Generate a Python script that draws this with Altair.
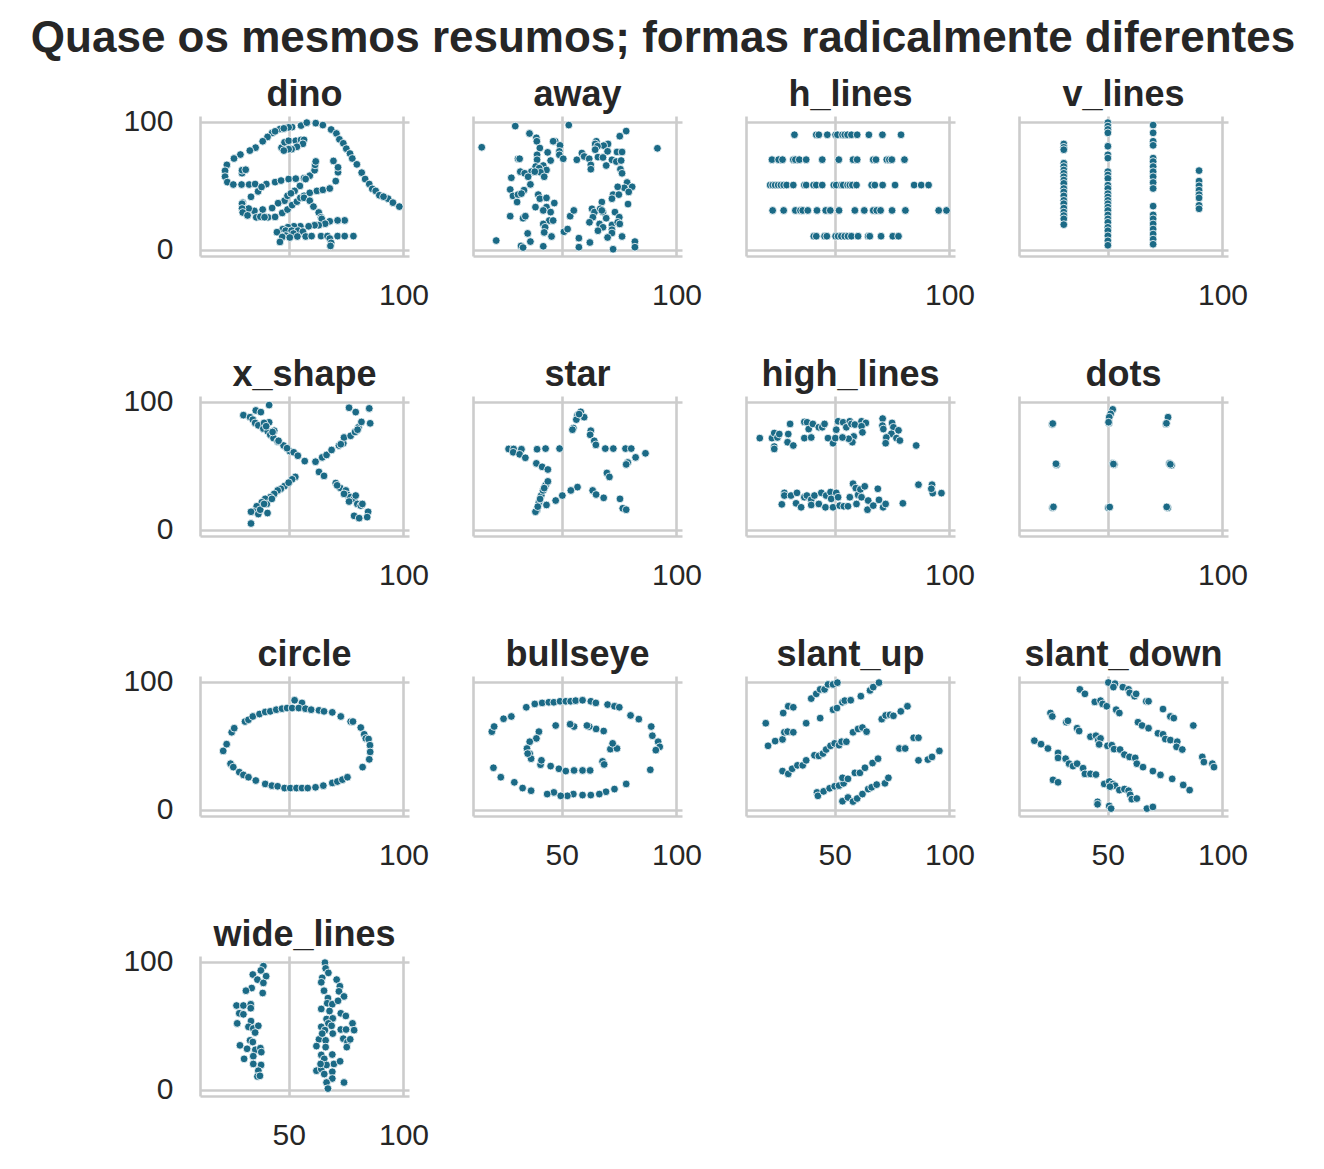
import altair as alt
import pandas as pd

TITLE = "Quase os mesmos resumos; formas radicalmente diferentes"
POINT_COLOR = "#1b6a86"
GREY = "#cccccc"
TEXT = "#262626"
FONT = "Liberation Sans"

# values
dino_x = [55.4, 51.5, 46.2, 42.8, 40.8, 38.7, 35.6, 33.1, 29.0, 26.2, 23.1, 22.3, 22.3, 23.3, 25.9, 29.5,
          32.8, 35.4, 40.3, 44.1, 46.7, 50.0, 53.1, 56.7, 59.2, 61.3, 61.5, 61.8, 57.4, 54.9, 52.6, 48.2,
          49.5, 51.0, 45.4, 42.8, 38.7, 35.1, 32.6, 30.0, 33.6, 36.7, 38.2, 29.7, 29.7, 30.0, 32.1, 35.9,
          41.0, 44.1, 47.2, 49.5, 51.5, 53.6, 55.1, 56.7, 59.2, 62.3, 64.9, 67.9, 70.5, 71.5, 71.5, 69.5,
          46.9, 48.2, 50.0, 53.1, 55.4, 56.7, 56.2, 53.6, 51.3, 50.0, 47.9, 29.7, 29.7, 31.3, 57.9, 61.8,
          64.9, 68.5, 70.8, 72.1, 73.8, 75.1, 76.7, 77.7, 79.7, 81.8, 83.3, 85.1, 86.4, 87.9, 89.5, 93.3,
          95.4, 98.2, 56.7, 59.2, 60.8, 63.1, 64.1, 64.4, 74.4, 71.3, 67.9, 65.9, 63.1, 61.3, 58.7, 55.1,
          52.3, 49.7, 47.4, 44.9, 48.7, 51.3, 54.1, 56.2, 52.1, 48.7, 47.2, 46.2, 50.5, 53.8, 57.4, 60.0,
          64.1, 66.9, 71.3, 74.4, 78.2, 67.9, 68.5, 68.2, 37.7, 39.5, 91.3, 50.0, 47.9, 44.1]
dino_y = [97.2, 96.0, 94.5, 91.4, 88.3, 84.9, 79.9, 77.6, 74.5, 71.4, 66.4, 61.8, 57.2, 52.9, 51.0, 51.0,
          51.0, 51.4, 51.4, 52.9, 54.1, 55.3, 55.6, 56.0, 57.9, 62.2, 66.4, 69.1, 55.3, 49.9, 46.0, 38.3,
          42.2, 44.1, 36.4, 32.6, 31.4, 30.3, 32.2, 36.8, 41.4, 45.6, 49.1, 36.0, 32.2, 29.1, 26.8, 25.3,
          25.3, 25.6, 28.7, 31.4, 34.9, 37.6, 40.6, 42.2, 44.5, 46.0, 46.8, 47.9, 53.7, 60.6, 64.5, 69.5,
          79.9, 84.1, 85.3, 85.3, 86.0, 86.0, 82.9, 80.6, 78.7, 78.7, 77.6, 59.9, 62.2, 62.6, 99.5, 99.1,
          97.6, 94.1, 91.0, 86.4, 83.3, 79.1, 75.3, 71.4, 66.8, 60.3, 55.3, 51.4, 47.6, 46.0, 42.6, 39.9,
          36.8, 33.7, 40.6, 38.3, 33.7, 29.1, 25.3, 24.1, 22.9, 22.9, 22.2, 20.3, 19.1, 19.1, 18.3, 18.3,
          18.3, 17.6, 16.0, 13.7, 14.9, 14.9, 14.9, 14.1, 12.6, 11.0, 9.9, 6.0, 9.5, 10.3, 10.3, 10.6,
          10.6, 10.6, 10.6, 10.6, 10.6, 8.7, 5.3, 2.9, 25.8, 25.4, 41.5, 95.8, 95.0, 92.7]

away_x = [15.2, 29.8, 53.1, 36.0, 39.0, 39.2, 40.5, 47.2, 46.3, 49.3, 49.0, 49.0, 50.7, 43.9, 45.2, 39.3,
          39.3, 31.0, 31.7, 38.7, 42.0, 43.4, 40.2, 40.8, 36.8, 38.3, 32.0, 33.9, 35.4, 42.4, 28.1, 36.4,
          27.6, 33.6, 28.8, 31.0, 32.5, 30.6, 39.8, 40.5, 43.4, 38.6, 43.4, 42.0, 45.2, 46.8, 27.6, 33.2,
          34.2, 44.6, 46.3, 42.0, 42.8, 51.0, 52.6, 53.7, 55.3, 35.2, 42.4, 45.6, 21.5, 36.4, 32.3, 33.2,
          42.0, 57.5, 57.5, 62.3, 72.4, 76.3, 81.9, 81.9, 91.7, 78.1, 75.3, 70.2, 68.3, 65.1, 64.6, 65.6,
          64.6, 70.0, 74.1, 76.3, 58.8, 59.8, 56.6, 62.0, 62.7, 62.7, 65.8, 68.0, 71.9, 73.8, 75.9, 69.4,
          75.6, 76.3, 78.5, 80.7, 77.3, 79.2, 74.4, 72.4, 71.9, 74.9, 67.5, 78.9, 63.2, 64.3, 66.8, 68.0,
          63.6, 62.1, 66.5, 68.0, 65.8, 69.4, 71.9, 71.9, 71.9, 73.2, 75.1, 74.4, 75.3, 70.0, 67.5]
away_y = [80.2, 96.8, 97.6, 91.0, 87.6, 84.9, 79.6, 84.9, 84.9, 81.7, 77.0, 74.3, 71.2, 76.2, 69.8, 74.3,
          70.4, 71.2, 71.2, 65.1, 65.9, 62.4, 63.8, 60.6, 61.1, 61.1, 61.1, 59.8, 57.1, 57.1, 56.3, 51.1,
          47.1, 46.6, 42.1, 43.1, 43.9, 37.3, 43.1, 39.9, 40.5, 33.3, 33.3, 30.7, 29.4, 36.5, 26.2, 24.6,
          26.2, 22.8, 22.8, 20.1, 17.5, 14.0, 16.1, 26.2, 30.7, 12.7, 13.5, 10.3, 7.1, 6.3, 2.9, 1.6,
          2.6, 9.0, 1.9, 5.6, 0.3, 10.3, 6.3, 1.9, 79.4, 92.9, 88.9, 82.8, 81.5, 84.9, 82.8, 81.0,
          78.3, 77.0, 76.5, 76.5, 75.7, 73.0, 70.4, 71.2, 66.4, 63.0, 72.5, 72.2, 70.4, 69.0, 69.8, 65.9,
          63.0, 59.8, 52.6, 49.2, 48.4, 45.2, 49.2, 43.1, 39.9, 43.1, 37.3, 35.7, 32.0, 29.4, 32.0, 29.4,
          25.4, 21.4, 20.1, 17.5, 14.8, 24.6, 19.3, 15.6, 13.0, 29.4, 25.4, 21.4, 20.1, 9.5, 30.7]

h_lines_x = [32.5, 42.0, 43.1, 46.8, 50.4, 51.2, 53.4, 54.4, 55.6, 57.3, 59.8, 64.9, 70.8, 78.9,
             22.7, 25.6, 27.3, 32.0, 32.9, 34.6, 37.6, 44.6, 51.8, 58.0, 59.8, 66.8, 68.0, 72.7, 73.8, 74.9, 80.4,
             21.9, 23.0, 24.1, 25.4, 26.6, 27.8, 29.1, 32.0, 36.8, 37.6, 40.8, 42.0, 44.6, 49.6, 50.7, 52.9,
             53.7, 55.6, 56.6, 57.7, 59.5, 66.1, 67.5, 70.9, 76.3, 84.6, 87.7, 90.9,
             23.0, 27.8, 32.9, 35.1, 36.1, 38.3, 42.3, 46.1, 48.1, 51.9, 58.8, 62.9, 66.8, 68.3, 70.0, 75.0,
             80.8, 95.3, 98.7,
             40.9, 42.0, 45.6, 46.6, 50.4, 51.5, 52.9, 54.4, 55.8, 57.3, 60.2, 64.6, 65.3, 70.2, 75.3, 77.8]
h_lines_y = [90.0] * 14 + [70.5] * 17 + [50.6] * 28 + [30.7] * 19 + [10.5] * 16

v_lines_x = [30.9] * 20 + [50.1] * 26 + [69.8] * 19 + [89.8] * 8
v_lines_y = [82.8, 80.2, 78.3, 67.7, 65.1, 62.4, 59.8, 57.1, 54.5, 51.9, 47.9, 45.2, 42.1, 38.6, 36.0,
             32.5, 29.4, 26.7, 24.1, 19.6,
             99.5, 96.8, 94.2, 91.5, 81.0, 74.3, 71.7, 61.1, 58.5, 55.8, 50.5, 47.9, 43.9, 41.3, 38.6,
             36.0, 33.3, 30.7, 27.2, 24.1, 21.4, 17.5, 14.8, 10.8, 6.9, 3.4,
             97.6, 91.5, 84.9, 81.7, 71.7, 69.0, 65.1, 61.1, 57.1, 52.6, 47.9, 34.1, 27.2, 24.1, 20.1,
             16.1, 12.2, 8.2, 4.2,
             61.9, 53.7, 50.0, 46.6, 43.1, 40.5, 34.7, 32.0]

x_shape_x = [30.3, 33.2, 34.4, 35.7, 37.9, 41.5, 35.4, 36.8, 39.0, 41.5, 40.9, 43.7, 39.3, 42.0, 43.4,
             45.2, 47.8, 50.4, 52.2, 54.0, 57.0, 40.2, 45.6, 49.3, 43.0,
             63.2, 65.4, 70.5, 72.4, 74.9, 75.6, 76.8, 78.5, 79.2, 79.9, 81.4, 76.3, 84.6, 78.5, 80.7,
             84.2, 74.1, 71.1, 82.1,
             61.7, 64.6, 66.5, 68.7, 71.9, 73.8, 74.1, 77.0, 78.9, 80.4, 81.7, 85.5, 76.3, 79.2, 85.1,
             80.0, 72.7,
             52.9, 51.5, 48.2, 46.6, 45.2, 43.7, 42.0, 39.8, 38.3, 40.5, 36.1, 34.6, 33.6, 36.8, 40.8,
             33.6, 42.7, 50.0, 37.6, 39.3]
x_shape_y = [89.7, 88.1, 86.2, 93.4, 92.1, 97.6, 83.6, 81.7, 79.1, 84.1, 77.0, 77.5, 83.6, 74.3, 71.7,
             69.0, 65.9, 61.6, 60.6, 57.9, 53.7, 81.0, 69.6, 63.8, 76.5,
             45.2, 42.1, 36.5, 32.8, 30.7, 27.2, 25.4, 24.1, 26.7, 20.1, 18.8, 22.0, 14.0, 10.8, 9.0,
             9.8, 28.0, 34.7, 20.1,
             53.2, 56.6, 58.5, 62.4, 65.9, 67.7, 72.2, 73.5, 76.5, 80.2, 84.4, 83.3, 95.5, 92.1, 95.0,
             78.3, 66.9,
             41.3, 39.4, 34.1, 32.0, 30.7, 28.0, 25.4, 24.1, 21.4, 20.1, 18.3, 14.3, 14.0, 12.2, 13.0,
             4.8, 24.1, 36.8, 15.6, 20.1]

star_x = [58.3, 56.9, 56.4, 59.8, 55.1, 54.7, 62.7, 62.4, 64.2, 64.9, 69.0, 72.5, 77.8, 80.3, 86.5,
          82.2, 78.8, 78.1, 69.7, 70.8, 63.5, 65.0, 68.3, 75.4, 76.6, 78.1, 56.9, 54.0, 50.3, 47.4,
          43.4, 39.3, 38.6, 40.1, 41.1, 41.9, 43.0, 44.0, 39.0, 41.5, 44.0, 26.9, 29.1, 32.5, 28.9,
          31.7, 34.2, 39.3, 43.0, 49.1, 39.6, 42.4, 40.6, 57.6]
star_y = [92.3, 89.7, 86.2, 88.1, 79.6, 78.3, 77.5, 74.3, 69.6, 66.4, 63.5, 63.5, 63.5, 63.5, 59.8,
          56.6, 52.6, 51.1, 44.4, 41.3, 30.7, 27.5, 24.9, 24.1, 16.7, 15.6, 33.3, 30.7, 26.7, 22.8,
          19.3, 15.6, 14.0, 21.4, 26.7, 30.7, 34.7, 37.8, 51.9, 49.2, 47.1, 63.2, 63.2, 63.0, 60.6,
          59.0, 56.3, 63.0, 63.5, 63.5, 18.0, 32.5, 24.0, 90.5]

high_lines_x = [17.4, 22.7, 23.7, 25.1, 25.9, 23.7, 23.7, 29.8, 29.5, 32.0, 30.6, 36.8, 38.0, 36.8, 39.8,
                38.7, 40.5, 43.1, 44.6, 45.6, 47.1, 49.3, 50.3, 50.7, 51.5, 53.7, 55.1, 56.6, 57.3, 58.8,
                58.3, 57.7, 56.1, 53.4, 61.7, 63.6, 61.7, 62.1, 70.9, 70.8, 71.2, 75.0, 75.6, 77.8, 74.7,
                72.5, 72.2, 76.9, 78.4, 85.5,
                28.1, 28.1, 27.0, 31.0, 33.6, 33.2, 35.4, 36.8, 37.9, 39.8, 39.8, 41.2, 43.1, 44.2, 46.3,
                46.0, 48.2, 48.5, 49.3, 50.7, 51.5, 52.2, 54.0, 55.8, 56.6, 58.0, 59.2, 59.5, 60.2, 61.2,
                63.1, 61.7, 64.6, 64.3, 66.8, 68.8, 69.3, 71.1, 72.2, 79.7, 86.5, 92.4, 92.7, 96.5, 92.1]
high_lines_y = [71.7, 71.7, 75.7, 72.2, 74.9, 65.1, 63.2, 74.9, 68.5, 65.9, 82.8, 84.4, 84.1, 71.7, 72.2,
                78.8, 82.8, 80.2, 80.2, 82.8, 71.7, 67.7, 71.7, 78.3, 84.9, 84.1, 80.2, 84.9, 82.8, 82.3,
                73.0, 68.5, 71.2, 72.2, 84.9, 83.6, 81.0, 76.2, 87.0, 81.5, 78.8, 83.6, 80.2, 77.8, 75.1,
                72.2, 67.7, 71.7, 69.8, 65.9,
                28.8, 26.7, 19.8, 26.7, 28.8, 20.6, 17.5, 25.4, 26.7, 23.5, 19.3, 26.7, 20.1, 28.8, 26.7,
                17.5, 29.4, 24.1, 17.5, 28.8, 25.4, 18.8, 18.3, 18.3, 25.4, 36.0, 32.5, 20.1, 27.2, 31.5,
                33.9, 25.4, 22.8, 15.6, 18.8, 32.0, 23.3, 17.5, 20.1, 20.6, 35.2, 35.2, 28.6, 28.6, 32.0]

dots_x = [25.9, 25.9, 26.1, 52.2, 51.3, 50.7, 50.6, 50.4, 76.3, 75.4, 75.6,
          27.6, 27.8, 27.5, 52.2, 52.9, 52.5, 76.9, 77.8, 77.3,
          26.2, 26.0, 26.4, 50.6, 50.3, 50.9, 75.9, 76.2, 75.7]
dots_y = [82.8, 82.5, 83.1, 94.2, 90.7, 88.1, 83.6, 84.2, 88.1, 82.8, 83.3,
          51.3, 50.8, 51.6, 51.9, 51.1, 51.4, 51.9, 50.5, 51.2,
          17.5, 17.2, 17.8, 17.5, 17.2, 17.7, 17.5, 17.1, 17.8]

circle_x = [21.5, 23.0, 25.2, 26.3, 31.0, 32.5, 34.4, 37.3, 39.8, 42.0, 44.6, 47.1, 49.3, 51.5, 52.6,
            55.8, 54.4, 57.3, 59.8, 63.2, 65.4, 69.0, 72.7, 77.0, 78.0, 81.4, 82.9, 83.6, 84.8, 85.4,
            85.5, 85.1, 82.2,
            24.7, 25.9, 28.5, 30.3, 32.5, 35.7, 39.8, 42.7, 45.2, 48.2, 50.7, 53.4, 55.8, 58.3, 61.7,
            65.1, 69.0, 71.2, 73.4, 75.6]
circle_y = [46.0, 51.3, 60.6, 63.8, 69.0, 70.4, 73.0, 74.9, 76.5, 77.0, 78.3, 79.1, 79.6, 79.6, 85.7,
            83.6, 79.6, 79.1, 78.3, 77.8, 77.0, 76.2, 73.0, 69.0, 69.0, 64.3, 59.0, 55.8, 55.3, 50.5,
            45.2, 39.4, 33.3,
            36.0, 33.3, 29.4, 27.2, 25.4, 22.8, 20.1, 18.8, 18.3, 16.9, 16.9, 16.9, 16.9, 16.9, 17.5,
            18.8, 20.9, 22.0, 23.5, 25.4]

bullseye_x = [19.6, 20.6, 24.7, 28.1, 34.6, 38.3, 41.5, 44.4, 46.6, 49.3, 51.8, 53.9, 56.1, 59.1, 62.7,
              64.9, 70.0, 73.0, 75.1, 80.0, 83.6, 89.0, 89.5, 92.0, 92.7, 91.0, 88.6, 78.1, 73.0, 69.3,
              66.4, 62.7, 59.1, 55.1, 52.5, 49.6, 46.6, 43.7, 36.7, 33.0, 29.4, 23.5, 20.3,
              40.1, 39.0, 36.1, 34.9, 36.1, 36.7, 40.8, 45.2, 48.8, 51.8, 55.4, 59.1, 62.4, 67.8, 68.5,
              71.2, 74.1, 72.2, 68.3, 65.0, 62.0, 61.0, 55.4, 53.7, 47.4, 41.2, 35.2]
bullseye_y = [61.1, 65.1, 71.2, 73.0, 80.2, 82.8, 83.6, 84.1, 84.1, 84.9, 84.9, 84.9, 85.4, 85.7, 84.9,
              83.6, 82.3, 81.0, 80.2, 73.8, 70.9, 65.1, 57.9, 53.2, 49.2, 46.6, 31.2, 20.1, 16.1, 14.0,
              12.2, 11.4, 11.4, 12.2, 10.8, 10.8, 13.5, 12.2, 14.8, 16.9, 21.4, 25.4, 32.8,
              61.1, 55.8, 53.2, 47.9, 43.9, 39.9, 35.2, 34.1, 32.0, 30.2, 30.7, 30.7, 30.7, 37.8, 35.4,
              47.4, 47.9, 51.9, 61.6, 63.2, 65.1, 65.9, 65.1, 66.9, 65.9, 38.6, 43.9]

slant_up_x = [20.0, 21.0, 24.1, 27.3, 28.1, 29.5, 32.0, 27.6, 29.8, 32.0, 37.6, 39.8, 42.0, 43.7, 45.6,
              47.1, 49.3, 51.2, 43.7, 49.3, 51.0, 53.4, 54.4, 57.0, 61.4, 65.4, 66.8, 69.3, 27.3, 29.8,
              31.5, 33.8, 36.1, 37.6, 41.2, 43.1, 44.9, 46.3, 48.2, 50.0, 51.9, 53.0, 55.1, 58.0, 60.2,
              62.1, 63.9, 70.5, 72.2, 74.1, 75.6, 78.8, 81.7, 78.2, 80.7, 84.4, 86.5, 86.5, 90.6, 92.4,
              95.6, 42.3, 42.7, 45.2, 47.8, 50.0, 51.9, 53.9, 53.4, 55.8, 58.8, 61.0, 63.2, 66.5, 68.9,
              53.4, 55.8, 58.0, 59.8, 62.1, 64.6, 66.1, 68.3, 71.9, 73.4]
slant_up_y = [67.7, 50.0, 53.7, 55.0, 60.6, 61.1, 60.6, 75.7, 81.0, 80.2, 67.7, 87.0, 90.7, 94.2, 94.2,
              98.1, 98.1, 99.5, 71.7, 78.3, 79.6, 84.1, 85.4, 85.7, 88.9, 93.4, 96.0, 99.5, 30.2, 28.0,
              32.0, 34.7, 34.7, 38.6, 42.6, 42.1, 43.9, 47.1, 50.0, 51.9, 50.5, 53.2, 53.2, 60.6, 63.2,
              64.3, 61.1, 70.9, 73.8, 74.3, 73.5, 77.0, 81.0, 47.9, 47.9, 56.3, 56.3, 38.6, 39.2, 41.3,
              46.0, 13.5, 10.8, 14.3, 16.7, 18.3, 18.8, 20.6, 24.9, 24.1, 28.8, 28.8, 32.8, 36.5, 39.9,
              6.6, 9.5, 6.3, 8.7, 12.2, 16.1, 17.5, 19.6, 20.6, 24.9]

slant_down_x = [50.3, 53.2, 52.5, 56.6, 59.1, 59.6, 61.7, 62.4, 66.8, 67.8, 74.1, 77.3, 78.8, 87.3,
                37.9, 40.1, 44.4, 46.9, 47.8, 49.6, 53.7, 55.1, 63.2, 65.0, 67.8, 71.9, 74.1, 75.1, 77.3,
                80.3, 80.0, 82.5, 91.2, 91.9, 95.6, 96.3,
                25.1, 25.9, 32.0, 32.7, 36.7, 37.6, 42.5, 44.9, 45.9, 46.9, 46.3, 49.9, 51.8, 52.8, 55.4,
                57.3, 59.5, 62.0, 62.7, 65.4, 69.7, 73.0, 78.1, 82.9, 85.7,
                18.1, 21.0, 24.0, 28.4, 28.4, 31.7, 33.2, 34.9, 36.7, 39.3, 40.1, 42.5, 44.9, 48.5, 50.7,
                52.2, 53.2, 51.0, 55.1, 57.3, 59.1, 59.8, 60.5, 62.7, 67.1, 69.7,
                26.2, 28.4, 45.6, 45.6, 50.7, 51.5]
slant_down_y = [99.6, 98.7, 96.0, 96.0, 94.2, 91.5, 88.9, 90.7, 84.9, 84.9, 78.8, 73.0, 71.7, 65.9,
                94.2, 90.7, 84.4, 85.4, 82.8, 81.0, 78.3, 75.7, 68.5, 65.9, 63.8, 59.8, 59.0, 55.3, 54.5,
                53.2, 49.2, 47.1, 41.3, 37.3, 36.0, 33.3,
                75.7, 73.0, 68.5, 69.6, 63.8, 61.6, 57.1, 57.9, 54.5, 55.8, 51.1, 50.0, 50.5, 47.4, 47.1,
                43.1, 41.3, 40.5, 36.0, 33.3, 30.2, 27.2, 24.1, 19.3, 15.3,
                54.0, 51.3, 47.9, 44.4, 40.5, 39.9, 36.0, 34.1, 36.0, 32.5, 28.0, 28.0, 27.5, 20.1, 22.0,
                20.1, 18.8, 18.0, 15.3, 16.1, 14.8, 11.6, 8.2, 8.7, 0.8, 2.1,
                23.3, 21.4, 6.1, 4.2, 2.9, 0.8]

wide_lines_x = [39.0, 37.9, 40.2, 34.4, 36.4, 39.0, 33.9, 31.4, 38.7, 27.3, 30.3, 33.5, 33.5, 28.5, 30.3,
                33.6, 32.5, 34.6, 36.8, 27.6, 35.4, 33.2, 34.4, 28.8, 31.9, 35.5, 37.7, 38.1, 34.6, 30.6,
                34.6, 38.0, 36.8, 36.4, 37.5,
                65.8, 66.1, 67.3, 64.6, 64.2, 70.9, 72.3, 71.9, 65.4, 74.1, 67.1, 66.8, 69.0, 71.5, 64.2,
                67.8, 72.7, 74.9, 66.5, 69.2, 67.3, 64.2, 68.7, 65.8, 69.2, 72.7, 75.0, 77.8, 78.5, 73.8,
                75.6, 76.8, 75.3, 63.2, 66.1, 62.1, 66.1, 64.2, 69.0, 65.5, 69.7, 72.4, 62.1, 64.2, 66.5,
                65.5, 69.0, 69.0, 66.5, 67.1, 74.1, 63.9, 64.6]
wide_lines_y = [96.8, 93.4, 88.9, 90.2, 86.2, 83.6, 79.6, 77.5, 75.7, 65.9, 65.9, 66.9, 63.8, 59.8, 59.0,
                53.7, 49.2, 47.9, 50.0, 51.9, 44.7, 38.6, 37.3, 34.7, 32.0, 31.2, 32.5, 29.4, 26.2, 24.1,
                20.1, 19.3, 14.8, 10.3, 10.8,
                99.5, 95.0, 91.5, 87.6, 84.1, 86.2, 81.0, 77.0, 77.5, 73.0, 71.7, 67.7, 66.9, 69.6, 63.2,
                61.6, 59.8, 57.7, 55.3, 55.8, 51.9, 49.2, 50.0, 46.6, 43.9, 47.1, 47.1, 51.9, 46.6, 39.9,
                37.3, 39.4, 33.3, 39.4, 38.6, 34.1, 33.3, 27.2, 27.5, 24.1, 20.1, 22.2, 14.8, 16.1, 19.3,
                12.2, 14.0, 8.7, 5.6, 0.8, 5.6, 20.1, 43.9]

panels = [
    ("dino", dino_x, dino_y), ("away", away_x, away_y),
    ("h_lines", h_lines_x, h_lines_y), ("v_lines", v_lines_x, v_lines_y),
    ("x_shape", x_shape_x, x_shape_y), ("star", star_x, star_y),
    ("high_lines", high_lines_x, high_lines_y), ("dots", dots_x, dots_y),
    ("circle", circle_x, circle_y), ("bullseye", bullseye_x, bullseye_y),
    ("slant_up", slant_up_x, slant_up_y), ("slant_down", slant_down_x, slant_down_y),
    ("wide_lines", wide_lines_x, wide_lines_y),
]

N_COLS = 4


def make_panel(i, name, xs, ys):
    df = pd.DataFrame({"x": xs, "y": ys})
    first_col = i % N_COLS == 0
    bottom = i + N_COLS >= len(panels)
    # only the bottom panel of each column keeps its "50" label
    x_labels = "datum.label" if bottom else "datum.value == 100 ? datum.label : ''"
    # first column titles sit above the "100" label, pull them down to line up
    title_offset = -7 if first_col else 2
    return alt.Chart(
        df,
        title=alt.TitleParams(name, fontSize=36, fontWeight="bold", color=TEXT, offset=title_offset),
    ).mark_circle(
        size=60, color=POINT_COLOR, opacity=1, stroke="white", strokeWidth=0.8
    ).encode(
        x=alt.X("x:Q", title=None,
                scale=alt.Scale(domain=[11.4, 102.4], nice=False, zero=False),
                axis=alt.Axis(values=[50, 100], labelExpr=x_labels, labelPadding=24)),
        y=alt.Y("y:Q", title=None,
                scale=alt.Scale(domain=[-5.0, 104.7], nice=False, zero=False),
                axis=alt.Axis(values=[0, 100], labels=first_col, labelPadding=27)),
    ).properties(width=209, height=140)


charts = [make_panel(i, n, xs, ys) for i, (n, xs, ys) in enumerate(panels)]

chart = alt.concat(
    *charts, columns=N_COLS, spacing={"row": 140, "column": 64}, bounds="flush"
).properties(
    title=alt.TitleParams(TITLE, anchor="start", align="center", frame="group", dx=463,
                          fontSize=44, fontWeight="bold", color=TEXT, offset=16),
    padding={"left": 22, "top": 8, "right": 10, "bottom": 10},
).configure_axis(
    domainColor=GREY, domainWidth=2.6, gridColor=GREY, gridWidth=2.6, grid=True,
    ticks=False, labelFontSize=30, labelColor=TEXT, labelFont=FONT,
    labelFlush=False, labelOverlap=False,
).configure_title(
    font=FONT
).configure_view(
    strokeWidth=0
)

chart.save("out.html", embed_options={"renderer": "svg", "actions": False})
